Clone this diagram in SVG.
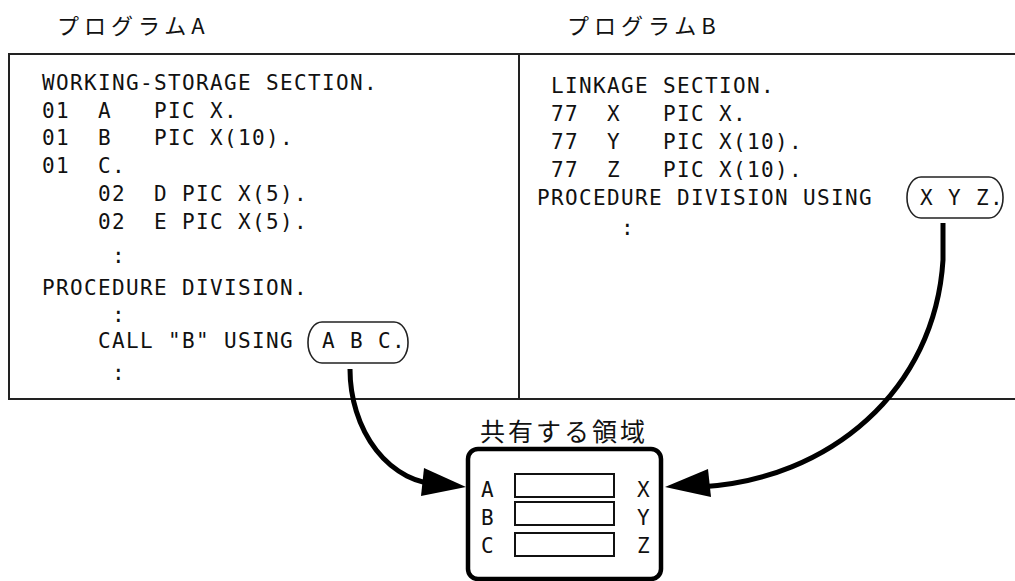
<svg xmlns="http://www.w3.org/2000/svg" width="1015" height="581" viewBox="0 0 1015 581" xml:space="preserve">
<style>
.code{font-family:"DejaVu Sans Mono","Liberation Mono",monospace;font-size:21px;letter-spacing:1.36px;fill:#111;white-space:pre}
.jp{font-family:"Noto Sans CJK JP","Noto Sans CJK SC",sans-serif;fill:#111}
.frame{fill:none;stroke:#222;stroke-width:2}
.oval{fill:none;stroke:#222;stroke-width:1.6}
.cell{fill:#fff;stroke:#111;stroke-width:2}
.conn{fill:none;stroke:#000;stroke-width:5}
.head{fill:#000}
</style>
<rect width="1015" height="581" fill="#fff"/>

<g id="programA">
  <text class="jp" x="57" y="34" font-size="22" letter-spacing="5">プログラムA</text>
  <rect class="frame" x="9" y="54" width="510" height="345"/>
  <text class="code" x="42" y="90">WORKING-STORAGE SECTION.</text>
  <text class="code" x="42" y="118">01  A   PIC X.</text>
  <text class="code" x="42" y="145">01  B   PIC X(10).</text>
  <text class="code" x="42" y="173">01  C.</text>
  <text class="code" x="42" y="201">    02  D PIC X(5).</text>
  <text class="code" x="42" y="229">    02  E PIC X(5).</text>
  <text class="code" x="112" y="263">:</text>
  <text class="code" x="42" y="295">PROCEDURE DIVISION.</text>
  <text class="code" x="112" y="322">:</text>
  <text class="code" x="42" y="348">    CALL "B" USING</text>
  <rect class="oval" x="308" y="322" width="100" height="41" rx="14" ry="20"/>
  <text class="code" x="322" y="348">A B C.</text>
  <text class="code" x="112" y="380">:</text>
</g>

<g id="programB">
  <text class="jp" x="567" y="34" font-size="22" letter-spacing="5">プログラムB</text>
  <rect class="frame" x="519" y="54" width="510" height="345"/>
  <text class="code" x="537" y="93"> LINKAGE SECTION.</text>
  <text class="code" x="537" y="121"> 77  X   PIC X.</text>
  <text class="code" x="537" y="149"> 77  Y   PIC X(10).</text>
  <text class="code" x="537" y="177"> 77  Z   PIC X(10).</text>
  <text class="code" x="537" y="205">PROCEDURE DIVISION USING</text>
  <rect class="oval" x="907" y="177" width="96" height="41" rx="14" ry="20"/>
  <text class="code" x="920" y="205">X Y Z.</text>
  <text class="code" x="621" y="235">:</text>
</g>

<g id="shared">
  <text class="jp" x="480" y="441" font-size="25" letter-spacing="3">共有する領域</text>
  <rect x="468" y="449" width="193" height="130" rx="10" fill="#fff" stroke="#000" stroke-width="4.5"/>
  <rect class="cell" x="515" y="474" width="99" height="23"/>
  <rect class="cell" x="515" y="502" width="99" height="23"/>
  <rect class="cell" x="515" y="533" width="99" height="23"/>
  <text class="code" x="481" y="497">A</text>
  <text class="code" x="481" y="525">B</text>
  <text class="code" x="481" y="553">C</text>
  <text class="code" x="637" y="497">X</text>
  <text class="code" x="637" y="525">Y</text>
  <text class="code" x="637" y="553">Z</text>
</g>

<g id="connectors">
  <path class="conn" d="M350,369 A90,115 0 0 0 440,484"/>
  <polygon class="head" points="466,487 424,468 421,496"/>
  <path class="conn" d="M943,223 L943,260 C935,390 830,480 700,487"/>
  <polygon class="head" points="665,487 708,469 711,497"/>
</g>
</svg>
